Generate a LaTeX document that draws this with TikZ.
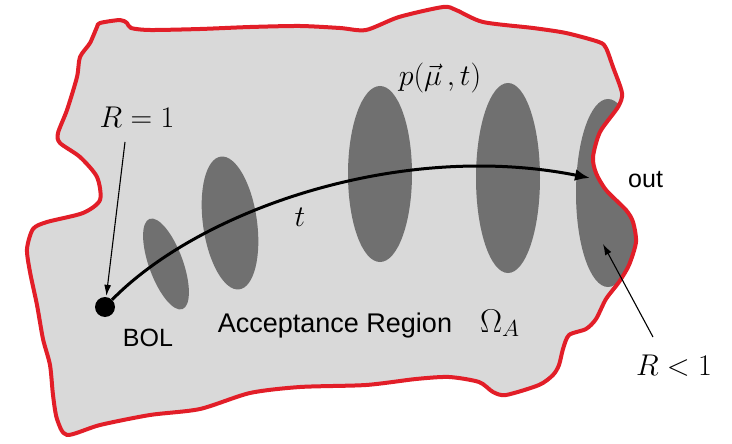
\documentclass[tikz,border=0pt]{standalone}
\usepackage{fix-cm}
\usepackage{fontspec}
\setsansfont{Liberation Sans}
\usetikzlibrary{arrows.meta,shapes.geometric}
\definecolor{regionfill}{RGB}{217,217,217}
\definecolor{blob}{RGB}{112,112,112}
\definecolor{edgered}{RGB}{226,30,40}
\def\regionpath{plot[smooth cycle, tension=0.45] coordinates {
 (100,23) (120,20) (127,23) (131,28) (150,30) (200,29) (250,27) (300,26) (340,28) (366,30)
 (399,17) (443,7) (456,10) (483,22) (533,28) (566,33) (599,42) (606,48) (613,67) (622,93)
 (618,107) (600,132) (593,157) (596,173) (606,190) (626,210) (633,222) (636,242) (629,265)
 (619,282) (606,299) (596,319) (586,329) (569,335) (563,349) (559,365) (553,375) (539,385)
 (506,395) (493,392) (479,382) (449,377) (416,379) (366,385) (300,387) (250,393) (200,409)
 (150,415) (100,425) (67,435) (57,419) (53,395) (50,365) (43,339) (37,305) (30,272) (27,249)
 (33,229) (47,222) (83,213) (100,200) (97,177) (80,157) (60,143) (58,133) (67,110) (77,77)
 (80,57) (90,43) (97,27)}}
\begin{document}
\begin{tikzpicture}[x=1pt,y=-1pt,
  blobstyle/.style={ellipse, fill=blob, inner sep=0pt},
  sanslabel/.style={font=\sffamily\fontsize{25}{28}\selectfont, inner sep=0pt},
  mathlabel/.style={font=\fontsize{30}{34}\selectfont, inner sep=0pt},
  thinarrow/.style={draw=black, line width=1.1pt, -{Latex[length=11pt,width=7pt]}},
  trajectory/.style={draw=black, line width=3pt, -{Latex[length=15pt,width=12pt]}}]
\useasboundingbox (0,0) rectangle (732,444);
\fill[regionfill] \regionpath;
\begin{scope}
\clip \regionpath;
\node[blobstyle, minimum width=34, minimum height=96, rotate=20] (e1) at (166,264) {};
\node[blobstyle, minimum width=54, minimum height=134, rotate=8] (e2) at (230,223) {};
\node[blobstyle, minimum width=64, minimum height=176] (e3) at (380,174) {};
\node[blobstyle, minimum width=64, minimum height=190] (e4) at (508,178) {};
\node[blobstyle, minimum width=64, minimum height=188] (e5) at (608,193) {};
\end{scope}
\draw[edgered, line width=4pt, line join=round] \regionpath;
\node[circle, fill=black, inner sep=0pt, minimum size=20] (bol) at (105,307) {};
\coordinate (outpt) at (590,178);
\draw[trajectory] (bol) .. controls (200,210) and (400,140) .. (outpt);
\node[mathlabel] (rone) at (137,117) {$R=1$};
\coordinate (ronefoot) at (125,142);
\draw[thinarrow, shorten >=1pt] (ronefoot) -- (bol);
\node[sanslabel] (bollabel) at (148,338) {BOL};
\node[sanslabel, font=\sffamily\fontsize{27}{30}\selectfont, anchor=base] (acc) at (335,332) {Acceptance Region};
\node[mathlabel, font=\fontsize{33}{36}\selectfont, anchor=base west] (omega) at (480,332) {$\Omega_A$};
\node[sanslabel, anchor=base west] (outlabel) at (628,187) {out};
\node[mathlabel] (pmu) at (440,78) {$p(\vec{\mu}\,,t)$};
\node[mathlabel] (tlabel) at (300,217) {$t$};
\node[mathlabel] (rless) at (674,366) {$R<1$};
\coordinate (rlessfoot) at (653,337);
\coordinate (rlesstip) at (603,244);
\draw[thinarrow] (rlessfoot) -- (rlesstip);
\end{tikzpicture}
\end{document}
